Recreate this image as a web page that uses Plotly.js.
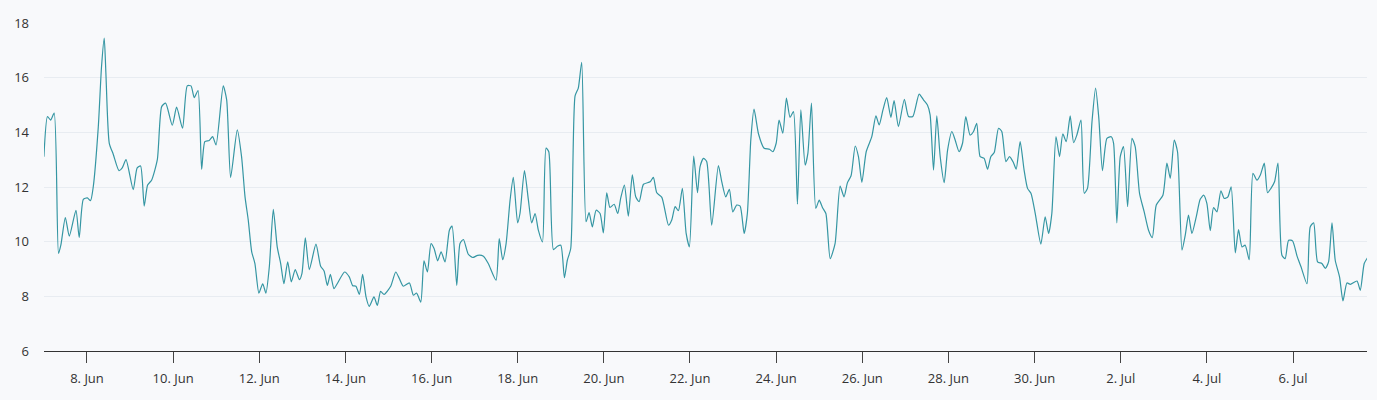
<!DOCTYPE html>
<html>
<head>
<meta charset="utf-8">
<script src="https://cdn.plot.ly/plotly-3.0.1.min.js"></script>
<style>
  html, body { margin: 0; padding: 0; background: #f8f9fb; }
  #gd { width: 1377px; height: 400px; }
</style>
</head>
<body>
<div id="gd"></div>
<script>
// hours since 7 Jun 00:00 at 1.8 px per hour
const hours = [
  0, 2.0, 3.7, 5.7, 8.1, 9.4, 11.9, 14.1, 17.8, 19.6, 21.9, 24.1, 25.9, 27.4, 30.2, 32.0, 33.5, 34.4, 36.3, 38.5,
  41.7, 43.5, 45.6, 49.6, 51.8, 53.7, 55.7, 57.6, 59.8, 63.0, 65.4, 67.6, 71.3, 73.7, 77.0, 79.6, 81.7, 83.5, 85.6, 87.6,
  89.4, 91.8, 93.7, 95.6, 99.6, 101.5, 103.7, 107.4, 109.8, 111.7, 113.5, 115.4, 117.2, 119.4, 121.5, 123.3, 125.2, 127.4, 129.6, 131.5,
  133.3, 135.4, 137.4, 139.6, 141.9, 143.3, 145.2, 147.4, 151.1, 153.7, 155.6, 157.4, 159.1, 161.1, 162.9, 167.0, 169.6, 171.5, 173.3, 175.2,
  177.0, 178.9, 180.7, 183.3, 185.2, 187.0, 188.9, 192.6, 195.4, 197.4, 199.6, 203.0, 205.2, 207.0, 209.3, 211.1, 213.0, 215.0, 216.7, 218.7,
  220.6, 222.8, 225.2, 226.7, 229.3, 231.1, 233.0, 235.7, 238.2, 240.9, 244.1, 246.8, 251.1, 252.9, 254.8, 256.7, 258.9, 260.7, 263.1, 264.4,
  266.9, 269.1, 270.9, 272.8, 274.6, 276.9, 278.9, 280.4, 283.0, 285.2, 287.1, 289.1, 290.7, 292.6, 295.0, 296.8, 298.7, 301.1, 302.8, 304.6,
  306.7, 308.9, 310.7, 312.6, 314.4, 316.7, 318.7, 320.4, 322.4, 324.6, 326.8, 328.7, 330.6, 333.0, 336.7, 338.5, 340.4, 343.2, 346.9, 348.7,
  350.6, 352.4, 354.6, 356.7, 358.5, 360.9, 363.0, 364.4, 366.3, 368.1, 370.9, 374.6, 376.5, 378.7, 380.7, 382.6, 384.8, 386.7, 388.9, 390.7,
  392.6, 394.4, 396.9, 400.0, 403.0, 404.8, 406.7, 408.3, 410.4, 412.4, 414.4, 416.3, 418.5, 420.4, 422.8, 424.3, 426.3, 428.7, 430.6, 432.4,
  434.3, 436.7, 439.4, 442.2, 444.4, 446.3, 448.3, 450.6, 452.4, 454.3, 456.7, 459.8, 462.1, 463.9, 466.0, 468.1, 470.4, 472.2, 474.6, 477.9,
  480.2, 482.6, 486.1, 488.5, 490.7, 492.2, 494.1, 495.9, 497.8, 500.0, 501.9, 504.3, 506.1, 508.3, 510.2, 512.0, 514.4, 516.3, 518.1, 520.0,
  522.2, 524.1, 525.9, 527.8, 530.2, 532.0, 534.3, 536.3, 538.5, 540.0, 542.2, 544.4, 546.3, 548.2, 550.6, 553.7, 556.1, 558.0, 559.8, 562.1,
  564.1, 565.9, 567.8, 570.0, 571.9, 573.7, 576.0, 577.8, 579.6, 582.1, 584.1, 585.9, 587.9, 590.4, 592.8, 594.1, 595.9, 597.8, 599.6, 601.9,
  604.3, 606.1, 608.5, 611.1, 613.5, 615.6, 617.8, 621.5, 623.7, 625.6, 627.8, 629.6, 632.1, 633.9, 635.7, 637.6, 640.0, 642.2, 644.1, 645.9,
  647.8, 649.6, 651.5, 653.7, 655.6, 657.6, 659.4, 661.7, 663.5, 665.4, 667.2, 669.4, 671.5, 673.7, 675.6, 677.8, 679.6, 681.5, 683.5, 685.4,
  687.6, 689.4, 691.3, 693.5, 696.0, 698.2, 701.5, 703.3, 705.2, 707.4, 709.8, 711.7, 713.5, 715.4, 717.2, 719.6, 721.5, 723.7, 725.6, 729.3,
  731.1, 733.3, 735.2
];

const values = [
  13.11, 14.58, 14.45, 14.70, 9.57, 9.87, 10.88, 10.20, 11.15, 10.15, 11.55, 11.60, 11.50, 12.00, 14.20, 16.40, 17.45, 16.20, 13.60, 13.20,
  12.60, 12.70, 13.00, 11.90, 12.70, 12.77, 11.30, 12.07, 12.25, 13.00, 14.94, 15.07, 14.26, 14.92, 14.15, 15.70, 15.70, 15.27, 15.53, 12.65,
  13.66, 13.70, 13.84, 13.54, 15.70, 15.19, 12.35, 14.09, 13.10, 11.64, 10.79, 9.63, 9.20, 8.12, 8.46, 8.12, 9.08, 11.18, 9.80, 9.20,
  8.46, 9.26, 8.53, 8.98, 8.61, 8.83, 10.14, 8.98, 9.91, 9.10, 8.93, 8.40, 8.80, 8.28, 8.46, 8.89, 8.71, 8.39, 8.37, 8.07,
  8.80, 7.98, 7.63, 7.98, 7.67, 8.18, 8.07, 8.37, 8.89, 8.65, 8.37, 8.49, 8.04, 8.12, 7.79, 9.30, 8.89, 9.93, 9.75, 9.30,
  9.63, 9.26, 10.42, 10.57, 8.40, 9.93, 10.08, 9.54, 9.42, 9.50, 9.47, 9.20, 8.59, 10.11, 9.34, 9.93, 11.52, 12.35, 10.69, 11.03,
  12.60, 11.52, 10.69, 11.03, 10.42, 9.99, 13.42, 13.29, 9.71, 9.83, 9.87, 8.68, 9.32, 9.75, 15.33, 15.62, 16.56, 10.73, 11.06, 10.54,
  11.15, 11.03, 10.32, 11.79, 11.25, 11.37, 11.03, 11.61, 12.07, 10.93, 12.44, 11.64, 11.46, 12.10, 12.19, 12.35, 11.79, 11.62, 10.60, 10.79,
  11.28, 11.13, 11.95, 10.30, 9.81, 13.13, 11.79, 12.74, 13.05, 12.93, 10.60, 12.78, 12.19, 11.64, 11.91, 11.09, 11.34, 11.30, 10.30, 11.03,
  13.72, 14.85, 13.94, 13.42, 13.38, 13.29, 13.60, 14.45, 13.97, 15.25, 14.55, 14.76, 11.37, 14.82, 12.80, 13.23, 15.07, 11.22, 11.52, 11.25,
  11.03, 9.38, 9.93, 12.03, 11.64, 12.16, 12.41, 13.50, 13.11, 12.17, 13.29, 13.84, 14.60, 14.27, 14.82, 15.27, 14.55, 15.16, 14.21, 15.21,
  14.58, 14.58, 15.40, 15.19, 15.00, 14.64, 12.62, 14.60, 13.11, 12.16, 13.35, 14.03, 13.72, 13.29, 13.60, 14.58, 13.90, 14.03, 14.33, 13.11,
  13.05, 12.65, 13.11, 13.26, 14.15, 14.03, 12.93, 13.11, 12.89, 12.65, 13.66, 12.62, 11.95, 11.77, 11.03, 9.91, 10.91, 10.30, 11.03, 13.84,
  13.11, 13.94, 13.66, 14.60, 13.62, 13.90, 14.45, 11.77, 11.95, 14.39, 15.62, 14.52, 12.60, 13.78, 13.84, 13.60, 10.69, 13.11, 13.48, 11.28,
  13.78, 13.48, 11.77, 11.09, 10.42, 10.15, 11.34, 11.70, 12.87, 12.32, 13.72, 13.29, 9.69, 10.24, 10.97, 10.30, 10.91, 11.55, 11.70, 11.40,
  10.40, 11.25, 11.09, 11.86, 11.58, 11.64, 12.01, 9.59, 10.44, 9.81, 9.87, 9.34, 12.50, 12.25, 12.44, 12.87, 11.79, 11.95, 12.19, 12.87,
  9.50, 9.38, 10.05, 10.03, 9.47, 9.08, 8.46, 10.54, 10.69, 9.26, 9.20, 9.02, 9.26, 10.69, 9.32, 8.71, 7.83, 8.49, 8.44, 8.56,
  8.22, 9.20, 9.42
];

// the axis in the picture runs at 43.06 px per day, not 43.2
const pxPerHourRead = 1.8;
const pxPerHourAxis = 43.06 / 24;

const startMs = Date.UTC(2023, 5, 7);
const times = hours.map(function (h) {
    let hh = h * pxPerHourRead / pxPerHourAxis;
    return new Date(startMs + Math.round(hh * 60) * 60000).toISOString().slice(0, 16).replace('T', ' ');
});

const yTicks = [6, 8, 10, 12, 14, 16, 18];

let trace = {
    x: times,
    y: values,
    type: 'scatter',
    mode: 'lines',
    line: { color: '#3596a3', width: 1.2, shape: 'spline', smoothing: 0.6 },
    hoverinfo: 'x+y'
};

let layout = {
    width: 1377,
    height: 400,
    paper_bgcolor: '#f8f9fb',
    plot_bgcolor: '#f8f9fb',
    font: { family: 'Open Sans, sans-serif', size: 13, color: '#333333' },
    margin: { l: 44, r: 10, t: 23, b: 49 },
    showlegend: false,
    xaxis: {
        type: 'date',
        range: ['2023-06-07 00:03', '2023-07-07 17:14'],
        tick0: '2023-06-08',
        dtick: 2 * 86400000,
        tickformat: '%-d. %b',
        ticks: 'outside',
        ticklen: 11,
        tickcolor: '#444444',
        ticklabelstandoff: 4,
        showline: true,
        linecolor: '#333333',
        linewidth: 1,
        showgrid: false,
        zeroline: false
    },
    yaxis: {
        range: [6, 18],
        tickvals: yTicks,
        ticktext: yTicks.map(String),
        ticks: '',
        ticklabelstandoff: 14,
        gridcolor: '#e8ecf1',
        gridwidth: 1,
        showline: false,
        zeroline: false
    }
};

Plotly.newPlot('gd', [trace], layout, { displayModeBar: false });
</script>
</body>
</html>
